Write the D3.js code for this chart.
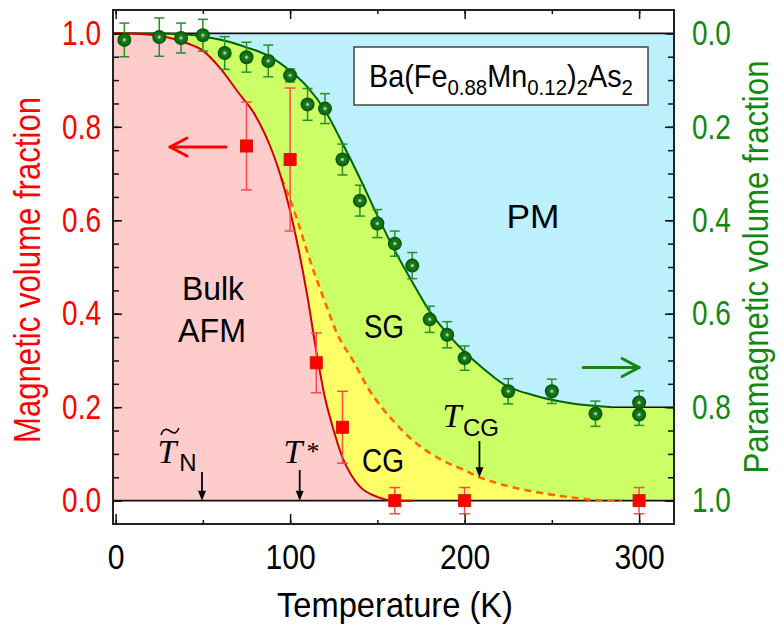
<!DOCTYPE html>
<html><head><meta charset="utf-8">
<script src="https://cdn.jsdelivr.net/npm/d3@7"></script>
<style>body{margin:0;background:#fff}svg{display:block}</style>
</head><body>
<svg id="c" width="783" height="628"></svg>
<script>
// ---------- data ----------
const greenT  = [5, 25, 37.5, 50, 62.5, 75, 87.5, 100, 110, 120, 130, 140, 150, 160, 170, 180, 190, 200, 225, 250, 275, 300, 300];
const greenPM = [0.014, 0.008, 0.010, 0.004, 0.042, 0.051, 0.059, 0.090, 0.152, 0.161, 0.270, 0.358, 0.407, 0.450, 0.497, 0.612, 0.645, 0.695, 0.766, 0.766, 0.814, 0.790, 0.816];
const greenErr= [0.036, 0.041, 0.032, 0.034, 0.035, 0.032, 0.034, 0.014, 0.034, 0.032, 0.033, 0.033, 0.030, 0.027, 0.028, 0.028, 0.028, 0.026, 0.027, 0.026, 0.027, 0.025, 0.023];

const redT   = [75, 100, 115, 130, 160, 200, 300];
const redV   = [0.759, 0.730, 0.295, 0.157, 0, 0, 0];
const redErr = [0.094, 0.153, 0.064, 0.077, 0.028, 0.028, 0.028];

const redFitT = [-2, 0, 20, 40, 50, 60, 70, 80, 90, 95, 100, 105, 110, 115, 120, 125, 130, 135, 140, 150, 160, 170];
const redFitV = [1, 1, 0.997, 0.98, 0.963, 0.925, 0.875, 0.825, 0.745, 0.69, 0.62, 0.535, 0.435, 0.32, 0.22, 0.15, 0.092, 0.055, 0.03, 0.008, 0, 0];

const cgFitT = [95, 100, 105, 110, 120, 127, 136, 145, 159, 170, 187.5, 200, 208.5, 220, 237, 255, 270, 280, 290];
const cgFitV = [0.69, 0.645, 0.59, 0.53, 0.425, 0.357, 0.30, 0.239, 0.171, 0.13, 0.086, 0.065, 0.05, 0.036, 0.021, 0.01, 0.003, 0, 0];

const pmFitT  = [-2, 0, 30, 45, 55, 65, 75, 87.5, 100, 110, 120, 130, 140, 150, 160, 170, 180, 190, 200, 210, 222, 240, 260, 285, 322];
const pmFitPM = [0, 0, 0.001, 0.004, 0.01, 0.018, 0.03, 0.048, 0.08, 0.115, 0.165, 0.235, 0.31, 0.39, 0.465, 0.532, 0.595, 0.642, 0.682, 0.715, 0.75, 0.775, 0.791, 0.8, 0.8];

const xTicks = [0, 100, 200, 300];
const xMinor = [0, 50, 100, 150, 200, 250, 300];
const yTicks = [0, 0.2, 0.4, 0.6, 0.8, 1.0];
const yMinor = [0, 0.05, 0.1, 0.15, 0.2, 0.25, 0.3, 0.35, 0.4, 0.45, 0.5, 0.55, 0.6, 0.65, 0.7, 0.75, 0.8, 0.85, 0.9, 0.95, 1.0];

const formulaParts = [['Ba(Fe', 0], ['0.88', 1], ['Mn', 0], ['0.12', 1], [')', 0], ['2', 1], ['As', 0], ['2', 1]];

// ---------- scales ----------
const X0 = 113, X1 = 674, Y0 = 10, Y1 = 524;
const x  = d3.scaleLinear().domain([-1.5, 320]).range([X0, X1]);
const y  = d3.scaleLinear().domain([-0.05, 1.05]).range([Y1, Y0]);   // magnetic
const yR = d3.scaleLinear().domain([-0.05, 1.05]).range([Y0, Y1]);   // paramagnetic

const RED = '#ff0000', GREEN = '#118811';
const svg = d3.select('#c');
const defs = svg.append('defs');
defs.append('clipPath').attr('id', 'clip').append('rect')
  .attr('x', X0).attr('y', Y0).attr('width', X1 - X0).attr('height', Y1 - Y0);
const gr = defs.append('radialGradient').attr('id', 'ball');
[[0, '#dfe6df'], [0.14, '#9cbc9c'], [0.3, '#1f7d1f'], [0.75, '#0b6a0b'], [1, '#004e00']]
  .forEach(([o, c]) => gr.append('stop').attr('offset', o).attr('stop-color', c));

const plot = svg.append('g').attr('clip-path', 'url(#clip)');

// ---------- regions ----------
plot.append('rect').attr('x', X0).attr('width', X1 - X0)
  .attr('y', y(1)).attr('height', y(0) - y(1)).attr('fill', '#bdf0fd');

const pmFit = pmFitT.map((t, i) => [t, pmFitPM[i]]);
const redFit = redFitT.map((t, i) => [t, redFitV[i]]);
const cgFit = cgFitT.map((t, i) => [t, cgFitV[i]]);

plot.append('path').datum(pmFit).attr('fill', '#ccff66')
  .attr('d', d3.area().x(d => x(d[0])).y0(yR(1)).y1(d => yR(d[1])).curve(d3.curveMonotoneX));
plot.append('path').datum(cgFit).attr('fill', '#ffff66')
  .attr('d', d3.area().x(d => x(d[0])).y0(y(0)).y1(d => y(d[1])).curve(d3.curveMonotoneX));
plot.append('path').datum(redFit).attr('fill', '#ffcccc')
  .attr('d', d3.area().x(d => x(d[0])).y0(y(0)).y1(d => y(d[1])).curve(d3.curveMonotoneX));

// reference lines
plot.append('line').attr('x1', X0).attr('x2', X1).attr('y1', y(1)).attr('y2', y(1)).attr('stroke', '#111').attr('stroke-width', 1.6);
plot.append('line').attr('x1', X0).attr('x2', X1).attr('y1', y(0)).attr('y2', y(0)).attr('stroke', '#111').attr('stroke-width', 1.6);
plot.append('line').attr('x1', x(285)).attr('x2', X1).attr('y1', yR(0.8)).attr('y2', yR(0.8)).attr('stroke', '#111').attr('stroke-width', 1.6);

// fit curves
plot.append('path').datum(pmFit.filter(d => d[0] <= 285)).attr('fill', 'none').attr('stroke', '#006400').attr('stroke-width', 2)
  .attr('d', d3.line().x(d => x(d[0])).y(d => yR(d[1])).curve(d3.curveMonotoneX));
plot.append('path').datum(cgFit).attr('fill', 'none').attr('stroke', '#ff6a00').attr('stroke-width', 2.6)
  .attr('stroke-dasharray', '7,5')
  .attr('d', d3.line().x(d => x(d[0])).y(d => y(d[1])).curve(d3.curveMonotoneX));
plot.append('path').datum(redFit).attr('fill', 'none').attr('stroke', '#d40000').attr('stroke-width', 2)
  .attr('d', d3.line().x(d => x(d[0])).y(d => y(d[1])).curve(d3.curveMonotoneX));

// ---------- error bars & markers ----------
const green = greenT.map((t, i) => ({t, v: greenPM[i], e: greenErr[i]}));
const red = redT.map((t, i) => ({t, v: redV[i], e: redErr[i]}));

function errBars(data, ys, color, cap) {
  const g = svg.append('g').attr('stroke', color).attr('stroke-width', 1.5);
  data.forEach(d => {
    const cx = x(d.t), a = ys(d.v - d.e), b = ys(d.v + d.e);
    g.append('line').attr('x1', cx).attr('x2', cx).attr('y1', a).attr('y2', b);
    g.append('line').attr('x1', cx - cap).attr('x2', cx + cap).attr('y1', a).attr('y2', a);
    g.append('line').attr('x1', cx - cap).attr('x2', cx + cap).attr('y1', b).attr('y2', b);
  });
}
errBars(green, yR, '#2b8c2b', 5);
errBars(red, y, '#ff4a4a', 5.5);

svg.append('g').selectAll('circle').data(green).join('circle')
  .attr('cx', d => x(d.t)).attr('cy', d => yR(d.v)).attr('r', 7).attr('fill', 'url(#ball)');
svg.append('g').selectAll('rect').data(red).join('rect')
  .attr('x', d => x(d.t) - 6).attr('y', d => y(d.v) - 6).attr('width', 12).attr('height', 12)
  .attr('fill', '#ff0000').attr('stroke', '#d81800').attr('stroke-width', 1);

// ---------- axes ----------
function squeeze(sel, f) {
  sel.each(function () {
    const L = this.getComputedTextLength();
    d3.select(this).attr('textLength', L * f).attr('lengthAdjust', 'spacingAndGlyphs');
  });
}
const FONT = "'Liberation Sans', Arial, sans-serif";

function styleAxis(g) {
  g.select('.domain').remove();
  g.selectAll('line').attr('stroke', '#111').attr('stroke-width', 1.5);
  g.selectAll('text').attr('font-family', FONT);
}
// bottom
const bx = svg.append('g').attr('transform', `translate(0,${Y1})`)
  .call(d3.axisBottom(x).tickValues(xTicks).tickSize(-10).tickPadding(20).tickFormat(d3.format('d')))
  .call(styleAxis);
bx.selectAll('text').attr('font-size', 35).attr('fill', '#000');
squeeze(bx.selectAll('text'), 0.86);
svg.append('g').attr('transform', `translate(0,${Y1})`)
  .call(d3.axisBottom(x).tickValues(xMinor).tickSize(-4).tickFormat('')).call(styleAxis);
// top
svg.append('g').attr('transform', `translate(0,${Y0})`)
  .call(d3.axisTop(x).tickValues(xTicks).tickSize(-9).tickFormat('')).call(styleAxis);
svg.append('g').attr('transform', `translate(0,${Y0})`)
  .call(d3.axisTop(x).tickValues(xMinor).tickSize(-4).tickFormat('')).call(styleAxis);
// left
const ly = svg.append('g').attr('transform', `translate(${X0},0)`)
  .call(d3.axisLeft(y).tickValues(yTicks).tickSize(-9).tickPadding(12).tickFormat(d3.format('.1f')))
  .call(styleAxis);
ly.selectAll('text').attr('font-size', 35).attr('fill', RED);
squeeze(ly.selectAll('text'), 0.8);
svg.append('g').attr('transform', `translate(${X0},0)`)
  .call(d3.axisLeft(y).tickValues(yMinor).tickSize(-6).tickFormat('')).call(styleAxis);
// right
const ry = svg.append('g').attr('transform', `translate(${X1},0)`)
  .call(d3.axisRight(yR).tickValues(yTicks).tickSize(-9).tickPadding(18).tickFormat(d3.format('.1f')))
  .call(styleAxis);
ry.selectAll('text').attr('font-size', 35).attr('fill', GREEN);
squeeze(ry.selectAll('text'), 0.8);
svg.append('g').attr('transform', `translate(${X1},0)`)
  .call(d3.axisRight(yR).tickValues(yMinor).tickSize(-6).tickFormat('')).call(styleAxis);

// frame
svg.append('rect').attr('x', X0).attr('y', Y0).attr('width', X1 - X0).attr('height', Y1 - Y0)
  .attr('fill', 'none').attr('stroke', '#222').attr('stroke-width', 2);

// ---------- titles ----------
function txt(s, opts) {
  const t = svg.append('text').text(s).attr('font-family', opts.family || FONT)
    .attr('font-size', opts.size).attr('fill', opts.fill || '#000')
    .attr('text-anchor', opts.anchor || 'middle');
  if (opts.transform) t.attr('transform', opts.transform); else t.attr('x', opts.x).attr('y', opts.y);
  if (opts.style) t.attr('font-style', opts.style);
  if (opts.len) t.attr('textLength', opts.len).attr('lengthAdjust', 'spacingAndGlyphs');
  return t;
}
txt('Temperature (K)', {x: 395, y: 617, size: 35, len: 236});
txt('Magnetic volume fraction', {transform: 'translate(40,270) rotate(-90)', size: 36, fill: RED, len: 346});
txt('Paramagnetic volume fraction', {transform: 'translate(768,267) rotate(-90)', size: 35, fill: GREEN, len: 413});

// ---------- annotations ----------
txt('Bulk', {x: 213, y: 300, size: 34, len: 62});
txt('AFM', {x: 212, y: 342, size: 34, len: 68});
txt('PM', {x: 533, y: 228, size: 34, len: 53});
txt('SG', {x: 384, y: 338, size: 34, len: 40});
txt('CG', {x: 383, y: 472, size: 34, len: 42});

const SERIF = "'Liberation Serif', 'DejaVu Serif', serif";
// T_N with tilde
txt('T', {x: 167, y: 463, size: 34, family: SERIF, style: 'italic'});
svg.append('path').attr('d', 'M161,435 C163,429 166,428 170,431 S176,434 179,428')
  .attr('fill', 'none').attr('stroke', '#000').attr('stroke-width', 1.6);
txt('N', {x: 188, y: 471, size: 24});
// T*
txt('T', {x: 293, y: 463, size: 34, family: SERIF, style: 'italic'});
txt('*', {x: 313, y: 460, size: 26, family: SERIF});
// T_CG
txt('T', {x: 452, y: 427, size: 34, family: SERIF, style: 'italic'});
txt('CG', {x: 481, y: 436, size: 24});

// black arrows
function downArrow(t, vEnd, yStart) {
  const cx = x(t), ye = y(vEnd);
  svg.append('line').attr('x1', cx).attr('x2', cx).attr('y1', yStart).attr('y2', ye - 4)
    .attr('stroke', '#000').attr('stroke-width', 1.8);
  svg.append('path').attr('d', `M${cx - 4},${ye - 10}L${cx},${ye}L${cx + 4},${ye - 10}Z`).attr('fill', '#000');
}
downArrow(49.5, 0, 472);
downArrow(105.5, 0, 470);
downArrow(208.5, 0.05, 441);

// coloured open arrows
function openArrow(x1, x2, yy, color, dir) {
  const g = svg.append('g').attr('stroke', color).attr('stroke-width', 3).attr('fill', 'none')
    .attr('stroke-linecap', 'round').attr('stroke-linejoin', 'round');
  g.append('line').attr('x1', x1).attr('x2', x2).attr('y1', yy).attr('y2', yy);
  const tip = dir > 0 ? x2 : x1;
  g.append('path').attr('d', `M${tip - dir * 17},${yy - 9}L${tip},${yy}L${tip - dir * 17},${yy + 9}`);
}
openArrow(x(300) - 56, x(300), yR(0.715), GREEN, 1);
openArrow(170, 226, 147, RED, -1);

// formula box
svg.append('rect').attr('x', 354).attr('y', 47).attr('width', 294).attr('height', 58)
  .attr('fill', '#fff').attr('stroke', '#444').attr('stroke-width', 1.5);
const fg = svg.append('g');
let cx = 0;
const pieces = formulaParts.map(([s, sub]) => {
  const t = fg.append('text').text(s).attr('font-family', FONT).attr('font-size', sub ? 22 : 31)
    .attr('x', cx).attr('y', sub ? 8 : 0);
  cx += t.node().getComputedTextLength();
  return t;
});
fg.attr('transform', `translate(369,87) scale(${264 / cx},1)`);
</script>
</body></html>
